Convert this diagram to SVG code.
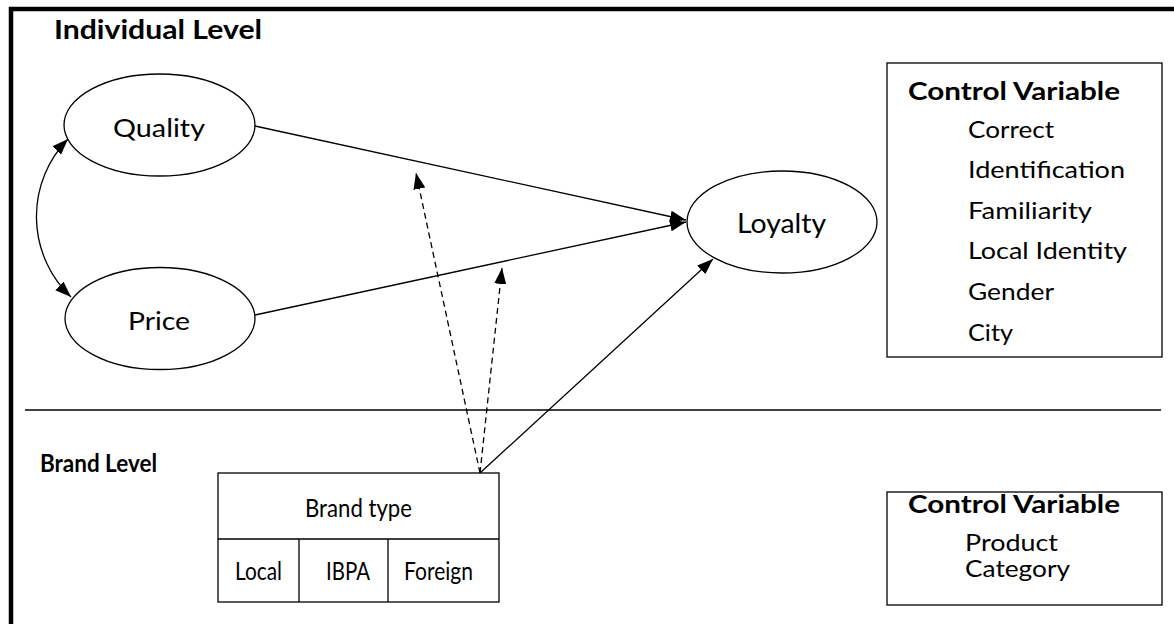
<svg xmlns="http://www.w3.org/2000/svg" width="1174" height="624" viewBox="0 0 1174 624">
<style>
text{font-family:Lato,"Open Sans","Liberation Sans",sans-serif;fill:#000}
.b{font-weight:bold}
.shape{fill:#fff;stroke:#000;stroke-width:1.3}
.ln{fill:none;stroke:#000;stroke-width:1.3}
.dash{stroke-dasharray:6 4}
</style>
<defs>
<marker id="ah" viewBox="0 0 16 12" refX="16" refY="6" markerWidth="16" markerHeight="12" markerUnits="userSpaceOnUse" orient="auto-start-reverse">
<path d="M0,0 L16,6 L0,12 Z" fill="#000"/>
</marker>
</defs>
<rect width="1174" height="624" fill="#fff"/>
<g id="frame">
<path d="M11,624 L11,9 L1174,9" fill="none" stroke="#000" stroke-width="4.5"/>
<line x1="25" y1="410" x2="1161" y2="410" stroke="#000" stroke-width="1.3"/>
<text class="b" x="54" y="39" font-size="26" textLength="208" lengthAdjust="spacingAndGlyphs">Individual Level</text>
<text class="b" x="40" y="472" font-size="25" textLength="117" lengthAdjust="spacingAndGlyphs">Brand Level</text>
</g>
<g id="connectors">
<path class="ln" d="M68,139 A111,111 0 0,0 71,297" marker-start="url(#ah)" marker-end="url(#ah)"/>
<line class="ln" x1="255" y1="126" x2="686" y2="220" marker-end="url(#ah)"/>
<line class="ln" x1="255" y1="315" x2="686" y2="222" marker-end="url(#ah)"/>
<line class="ln" x1="480" y1="473" x2="713" y2="259" marker-end="url(#ah)"/>
<line class="ln dash" x1="480" y1="473" x2="416" y2="173" marker-end="url(#ah)"/>
<line class="ln dash" x1="480" y1="473" x2="502" y2="268" marker-end="url(#ah)"/>
</g>
<g id="quality">
<ellipse class="shape" cx="159.5" cy="125" rx="95.5" ry="51"/>
<text x="113" y="137" font-size="25" textLength="92" lengthAdjust="spacingAndGlyphs">Quality</text>
</g>
<g id="price">
<ellipse class="shape" cx="160" cy="318.5" rx="95" ry="51"/>
<text x="128" y="330" font-size="25" textLength="62" lengthAdjust="spacingAndGlyphs">Price</text>
</g>
<g id="loyalty">
<ellipse class="shape" cx="782" cy="222" rx="95" ry="51"/>
<text x="737" y="233" font-size="26" textLength="89" lengthAdjust="spacingAndGlyphs">Loyalty</text>
</g>
<g id="control-individual">
<rect class="shape" x="887" y="63" width="275" height="294"/>
<text class="b" x="908" y="100" font-size="24" textLength="212" lengthAdjust="spacingAndGlyphs">Control Variable</text>
<text x="968" y="138" font-size="23" textLength="86" lengthAdjust="spacingAndGlyphs">Correct</text>
<text x="968" y="178" font-size="23" textLength="157" lengthAdjust="spacingAndGlyphs">Identification</text>
<text x="968" y="219" font-size="23" textLength="124" lengthAdjust="spacingAndGlyphs">Familiarity</text>
<text x="968" y="259" font-size="23" textLength="159" lengthAdjust="spacingAndGlyphs">Local Identity</text>
<text x="968" y="300" font-size="23" textLength="86" lengthAdjust="spacingAndGlyphs">Gender</text>
<text x="968" y="341" font-size="23" textLength="45" lengthAdjust="spacingAndGlyphs">City</text>
</g>
<g id="brand-type">
<rect class="shape" x="218" y="473" width="281" height="129"/>
<line class="ln" x1="218" y1="539" x2="499" y2="539"/>
<line class="ln" x1="299" y1="539" x2="299" y2="602"/>
<line class="ln" x1="388" y1="539" x2="388" y2="602"/>
<text x="305" y="517" font-size="25" textLength="107" lengthAdjust="spacingAndGlyphs">Brand type</text>
<text x="235" y="580" font-size="25" textLength="47" lengthAdjust="spacingAndGlyphs">Local</text>
<text x="326" y="580" font-size="25" textLength="44" lengthAdjust="spacingAndGlyphs">IBPA</text>
<text x="404" y="580" font-size="25" textLength="69" lengthAdjust="spacingAndGlyphs">Foreign</text>
</g>
<g id="control-brand">
<rect class="shape" x="887" y="492" width="275" height="113"/>
<text class="b" x="908" y="513" font-size="24" textLength="212" lengthAdjust="spacingAndGlyphs">Control Variable</text>
<text x="965" y="551" font-size="23" textLength="93" lengthAdjust="spacingAndGlyphs">Product</text>
<text x="965" y="577" font-size="23" textLength="105" lengthAdjust="spacingAndGlyphs">Category</text>
</g>
</svg>
